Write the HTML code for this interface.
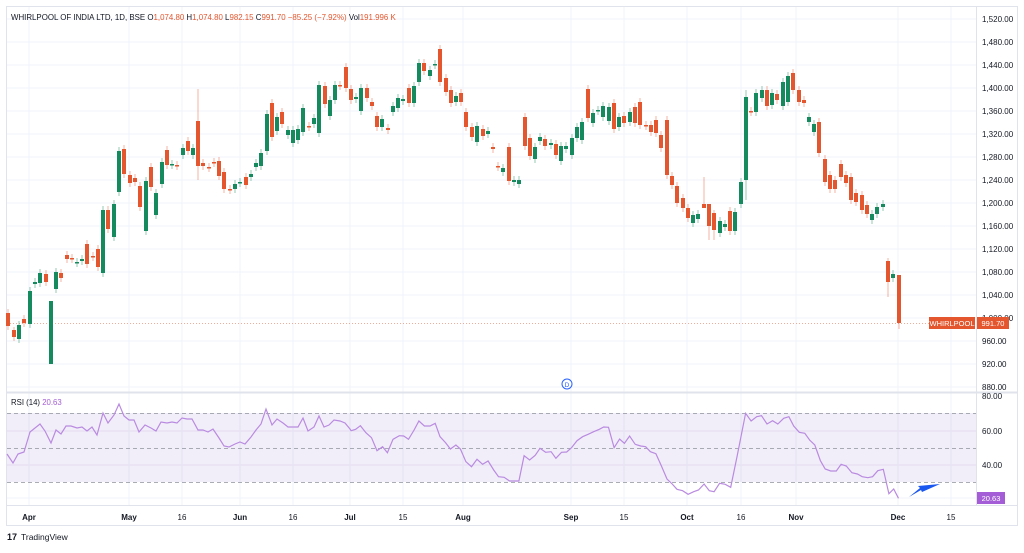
<!DOCTYPE html>
<html><head><meta charset="utf-8">
<style>
html,body{margin:0;padding:0;background:#fff;}
body{width:1024px;height:548px;overflow:hidden;font-family:"Liberation Sans",sans-serif;}
svg text{font-family:"Liberation Sans",sans-serif;}
</style></head><body>
<svg id="s" width="1024" height="548" viewBox="0 0 1024 548" xmlns="http://www.w3.org/2000/svg">
<rect x="0" y="0" width="1024" height="548" fill="#fff"/>
<rect x="6.5" y="6.5" width="1011" height="519" fill="none" stroke="#e0e3eb" stroke-width="1"/>
<g id="grid"></g>
<rect x="7" y="413" width="969" height="69" fill="#7e57c2" fill-opacity="0.1"/>
<g stroke="#9598a1" stroke-width="1" stroke-dasharray="4,3" stroke-opacity="0.8">
<line x1="7" y1="413.5" x2="976" y2="413.5"/><line x1="7" y1="448.5" x2="976" y2="448.5"/><line x1="7" y1="482.5" x2="976" y2="482.5"/>
</g>
<line x1="7" y1="392.5" x2="1017" y2="392.5" stroke="#e0e3eb" stroke-width="2"/>
<line x1="976.5" y1="7" x2="976.5" y2="505" stroke="#e0e3eb"/>
<line x1="7" y1="505.5" x2="1017" y2="505.5" stroke="#e0e3eb"/>
<line x1="7" y1="323.5" x2="976" y2="323.5" stroke="#e4572e" stroke-opacity="0.5" stroke-dasharray="1,2"/>
<g id="candles"></g>
<polyline id="rsi" fill="none" stroke="#b98be0" stroke-width="1.2"/>
<g id="axis" font-size="8" fill="#131722"></g>
<text x="11" y="20" font-size="7.9" fill="#131722">WHIRLPOOL OF INDIA LTD, 1D, BSE <tspan fill="#131722">O</tspan><tspan fill="#e4572e">1,074.80</tspan> <tspan fill="#131722">H</tspan><tspan fill="#e4572e">1,074.80</tspan> <tspan fill="#131722">L</tspan><tspan fill="#e4572e">982.15</tspan> <tspan fill="#131722">C</tspan><tspan fill="#e4572e">991.70 −85.25 (−7.92%)</tspan> <tspan fill="#131722">Vol</tspan><tspan fill="#e4572e">191.996 K</tspan></text>
<text x="11" y="405" font-size="7.8" fill="#131722">RSI (14) <tspan fill="#a45dd6">20.63</tspan></text>
<rect x="929" y="317" width="46" height="12" fill="#e4572e"/>
<text x="952" y="326" font-size="7.5" fill="#fff" text-anchor="middle">WHIRLPOOL</text>
<rect x="977" y="317" width="32" height="12" fill="#e4572e"/>
<text x="993" y="326" font-size="7.5" fill="#fff" text-anchor="middle">991.70</text>
<rect x="977" y="492" width="28" height="12" fill="#a45dd6"/>
<text x="991" y="501" font-size="7.5" fill="#fff" text-anchor="middle">20.63</text>
<circle cx="567" cy="384" r="5" fill="#fff" stroke="#2962ff" stroke-width="1"/>
<text x="567" y="387" font-size="6.5" fill="#2962ff" text-anchor="middle">D</text>
<polygon points="909,497 920,488 918,486 940,484 922,492 921,490" fill="#1a56f0"/>
<text x="7" y="540" font-size="9" font-weight="bold" fill="#131722">17</text>
<text x="21" y="540" font-size="8.5" fill="#131722">TradingView</text>
</svg>
<script>
var NS="http://www.w3.org/2000/svg";
function el(p,t,a){var e=document.createElementNS(NS,t);for(var k in a)e.setAttribute(k,a[k]);p.appendChild(e);return e;}
var grid=document.getElementById('grid'),axis=document.getElementById('axis'),cg=document.getElementById('candles');
for(var p=880;p<=1520;p+=40){var y=19+(1520-p)*0.575;
 el(grid,'line',{x1:7,x2:976,y1:y,y2:y,stroke:'#f0f3fa'});
 var t=el(axis,'text',{x:982,y:y+3});t.textContent=p.toLocaleString('en-US')+'.00';}
[[80,396],[60,431],[40,465]].forEach(function(r){var t=el(axis,'text',{x:982,y:r[1]+3});t.textContent=r[0]+'.00';});
el(grid,'line',{x1:7,x2:976,y1:465,y2:465,stroke:'#ece9f7'});el(grid,'line',{x1:7,x2:976,y1:431,y2:431,stroke:'#ece9f7'});
el(grid,'line',{x1:7,x2:976,y1:498,y2:498,stroke:'#f0f3fa'});
[['Apr',29,1],['May',129,1],['16',182,0],['Jun',240,1],['16',293,0],['Jul',350,1],['15',403,0],['Aug',463,1],['Sep',571,1],['15',624,0],['Oct',687,1],['16',741,0],['Nov',796,1],['Dec',898,1],['15',951,0]].forEach(function(m){
 el(grid,'line',{x1:m[1],x2:m[1],y1:7,y2:505,stroke:'#f0f3fa'});
 var t=el(axis,'text',{x:m[1],y:520,'text-anchor':'middle','font-weight':m[2]?'bold':'normal'});t.textContent=m[0];});
var C=[[8,313,326,0],[14,330,337,0],[19,325,339,1],[24,319,323,0],[30,291,324,1],[35,282,284,1],[40,273,283,1],[46,274,282,0],[51,301,364,1],[56,272,289,1],[61,273,278,0],[67,255,259,0],[72,258,259,0],[77,262,263,1],[82,259,261,1],[87,244,264,0],[93,256,257,0],[98,249,267,0],[103,210,273,1],[108,210,229,0],[114,204,237,1],[119,151,192,1],[124,149,174,0],[130,175,183,0],[135,178,182,0],[140,186,207,0],[146,181,231,1],[151,167,187,0],[156,193,215,1],[162,162,184,1],[167,150,165,0],[172,164,165,1],[177,165,166,0],[183,148,155,1],[188,141,151,0],[193,148,155,1],[198,121,166,0],[203,163,166,0],[209,167,168,0],[214,162,163,0],[219,161,176,0],[224,172,189,0],[230,189,190,0],[235,184,189,1],[240,182,183,1],[246,177,185,0],[251,174,177,1],[256,163,167,1],[261,153,166,1],[267,114,151,1],[272,103,137,0],[277,117,131,1],[282,112,124,0],[288,130,135,1],[293,130,143,1],[298,129,140,1],[303,108,132,1],[309,126,127,0],[314,118,124,1],[319,85,133,1],[325,86,104,0],[330,100,116,1],[335,85,100,1],[340,85,86,0],[346,67,88,0],[351,89,100,0],[356,97,99,1],[361,88,111,1],[367,88,98,0],[372,102,106,0],[377,116,127,0],[382,119,127,1],[388,128,130,0],[393,106,112,1],[398,98,108,1],[403,99,101,1],[409,88,103,0],[414,86,103,1],[419,63,82,1],[424,63,71,0],[430,70,76,1],[435,64,65,1],[440,49,82,0],[446,78,92,0],[451,90,103,0],[456,96,102,1],[461,93,102,0],[466,112,127,0],[472,127,137,0],[477,126,142,1],
[483,129,136,0],[488,131,134,1],[493,147,149,0],[498,166,167,0],[503,168,172,1],[509,147,181,0],[514,180,182,1],[519,180,184,1],[525,117,146,0],[530,138,156,0],[535,147,159,1],[540,137,141,1],[545,139,146,0],[551,143,145,1],[556,144,155,0],[561,146,161,1],[566,146,149,1],[572,138,155,1],[577,127,138,1],[582,122,140,1],[588,89,118,0],[593,113,123,1],[598,110,111,1],[603,106,117,1],[609,107,121,1],[614,103,129,0],[619,117,127,1],[624,116,123,0],[630,112,122,1],[635,107,123,0],[640,102,125,0],[646,125,126,0],[651,125,132,0],[656,120,133,0],[661,135,148,0],[667,120,175,0],[672,176,185,0],[677,186,203,0],[683,198,208,0],[688,208,218,0],[693,215,223,1],[698,214,219,1],[704,204,208,0],[709,204,226,0],[714,213,230,0],[720,221,233,1],[725,224,227,1],[730,211,231,0],[735,212,231,1],[741,182,204,1],[746,97,180,1],[751,111,112,0],[756,93,112,1],[762,90,98,1],[767,90,106,0],[772,93,105,1],[777,94,100,0],[783,82,106,1],[788,76,102,1],[793,73,90,0],[799,90,102,0],[804,100,103,0],[809,117,122,1],[814,124,132,1],[819,122,153,0],[825,159,182,0],[830,175,189,0],[835,180,189,0],[841,164,177,0],[846,175,183,0],[851,177,200,0],[856,193,202,0],[862,195,210,0],[867,205,214,0],[872,214,220,1],[877,207,214,1],[883,204,207,1],[888,261,282,0],[893,274,278,1],[899,275,323,0]];
var WK={198:[89,180],704:[177,208],14:[327,341],51:[301,364],746:[90,200],888:[258,297],899:[275,329],709:[204,240],714:[210,240]};
C.forEach(function(c){var col=c[3]?'#158a5e':'#e4572e';var w=WK[c[0]]||[c[1]-4,c[2]+4];
 el(cg,'line',{x1:c[0],x2:c[0],y1:w[0],y2:w[1],stroke:col,'stroke-opacity':0.45});
 el(cg,'rect',{x:c[0]-2,y:c[1],width:4,height:Math.max(1.5,c[2]-c[1]),fill:col});});
var A=[[7,454],[13,463],[18,454],[24,452],[30,432],[35,428],[40,424],[45,431],[51,443],[56,430],[61,434],[66,426],[71,426],[77,428],[82,427],[87,431],[92,427],[97,435],[103,413],[108,423],[114,415],[119,404],[124,416],[129,420],[134,420],[139,432],[145,425],[151,428],[156,431],[161,422],[167,423],[172,422],[177,423],[182,418],[187,419],[192,419],[198,430],[203,430],[208,432],[213,429],[219,438],[224,446],[229,447],[235,444],[240,442],[245,444],[251,437],[256,430],[261,424],[266,409],[272,425],[277,419],[283,423],[288,427],[293,427],[298,427],[303,418],[308,431],[314,427],[319,416],[324,427],[329,425],[334,420],[340,421],[345,423],[350,429]];
var B=[[10,97],[30,122],[42,118],[55,107],[70,128],[85,143],[100,182],[115,170],[128,188],[143,148],[160,137],[172,138],[185,148],[200,120],[213,93],[228,108],[243,108],[257,100],[270,140],[285,158],[298,177],[313,165],[325,177],[340,215],[355,230],[370,208],[385,223],[400,213],[415,240],[428,260],[443,262],[458,273],[483,273],[497,197],[512,210],[527,196],[540,175],[555,187],[570,185],[583,205],[598,187],[612,186],[625,173],[640,152],[655,140],[670,133],[685,125],[700,118],[712,111],[725,112],[740,173],[755,147],[768,160],[782,138],[797,163],[812,168],[825,170],[838,185],[853,191],[867,226],[883,267],[897,282],[910,298],[925,302],[940,313],[955,305],[968,300],[983,282],[997,302],[1010,305],[1025,280],[1040,283],[1055,292],[1072,200],[1095,70],[1110,93],[1125,80],[1138,77],[1153,102],[1168,92],[1182,102],[1198,85],[1212,80],[1225,108],[1240,127],[1255,130],[1268,150],[1282,165],[1297,212],[1310,237],[1325,243],[1340,243],[1353,223],[1367,228],[1382,248],[1397,252],[1410,260],[1425,263],[1438,260],[1452,242],[1467,238],[1482,311],[1495,297],[1508,325]];
var pts=A.map(function(p){return p.join(',')});
B.forEach(function(p){var x=340+p[0]/2.7;if(x>350)pts.push(x.toFixed(1)+','+(390+p[1]/3).toFixed(1));});
document.getElementById('rsi').setAttribute('points',pts.join(' '));
</script>
</body></html>
